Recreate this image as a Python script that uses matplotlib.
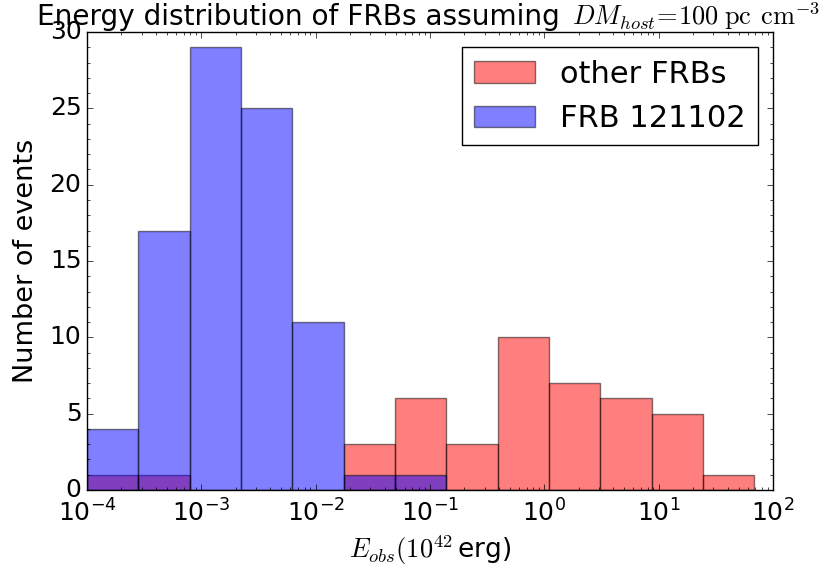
import numpy as np
import matplotlib
matplotlib.use("Agg")
import matplotlib.pyplot as plt

plt.style.use("classic")

# log10 bin edges shared by both histograms
log_edges = [-4.0, -3.551, -3.102, -2.653, -2.204, -1.755, -1.306,
             -0.857, -0.408, 0.041, 0.490, 0.939, 1.388, 1.837]
counts_other = [1, 1, 0, 0, 0, 3, 6, 3, 10, 7, 6, 5, 1]
counts_121102 = [4, 17, 29, 25, 11, 1, 1, 0, 0, 0, 0, 0, 0]

edges = 10 ** np.array(log_edges)
centers = np.sqrt(edges[:-1] * edges[1:])

W, H = 829, 565
fig = plt.figure(figsize=(W / 100, H / 100), dpi=100, facecolor="white")
ax = fig.add_axes([0.105, 0.133, 0.8275, 0.81])
ax.set_facecolor("white")

ax.hist(centers, bins=edges, weights=counts_other, color="red", alpha=0.5,
        label="other FRBs")
ax.hist(centers, bins=edges, weights=counts_121102, color="blue", alpha=0.5,
        label="FRB 121102")

ax.set_xscale("log")
ax.set_xlim(1e-4, 1e2)
ax.set_ylim(0, 30)
ax.tick_params(labelsize=18)
ax.tick_params(axis="x", pad=7)
ax.yaxis.set_minor_locator(matplotlib.ticker.MultipleLocator(1))

ax.set_xlabel(r"$E_{obs}(10^{42}\,$erg)", fontsize=19)
ax.set_ylabel("Number of events", fontsize=19.5, labelpad=8)

# title: plain text followed by the math part on the same baseline
title_y = 1 - 25 / H
t1 = fig.text(37 / W, title_y, "Energy distribution of FRBs assuming",
              fontsize=20.2, va="baseline", ha="left")
fig.canvas.draw()
bb = t1.get_window_extent()
fig.text((bb.x1 + 12) / W, title_y,
         r"$DM_{host}\!=\!100\;\mathrm{pc}\;\,\mathrm{cm}^{-3}$",
         fontsize=19, va="baseline", ha="left")

ax.legend(loc="upper right", fontsize=22, frameon=True)

fig.savefig("out.png", dpi=100, facecolor="white")
